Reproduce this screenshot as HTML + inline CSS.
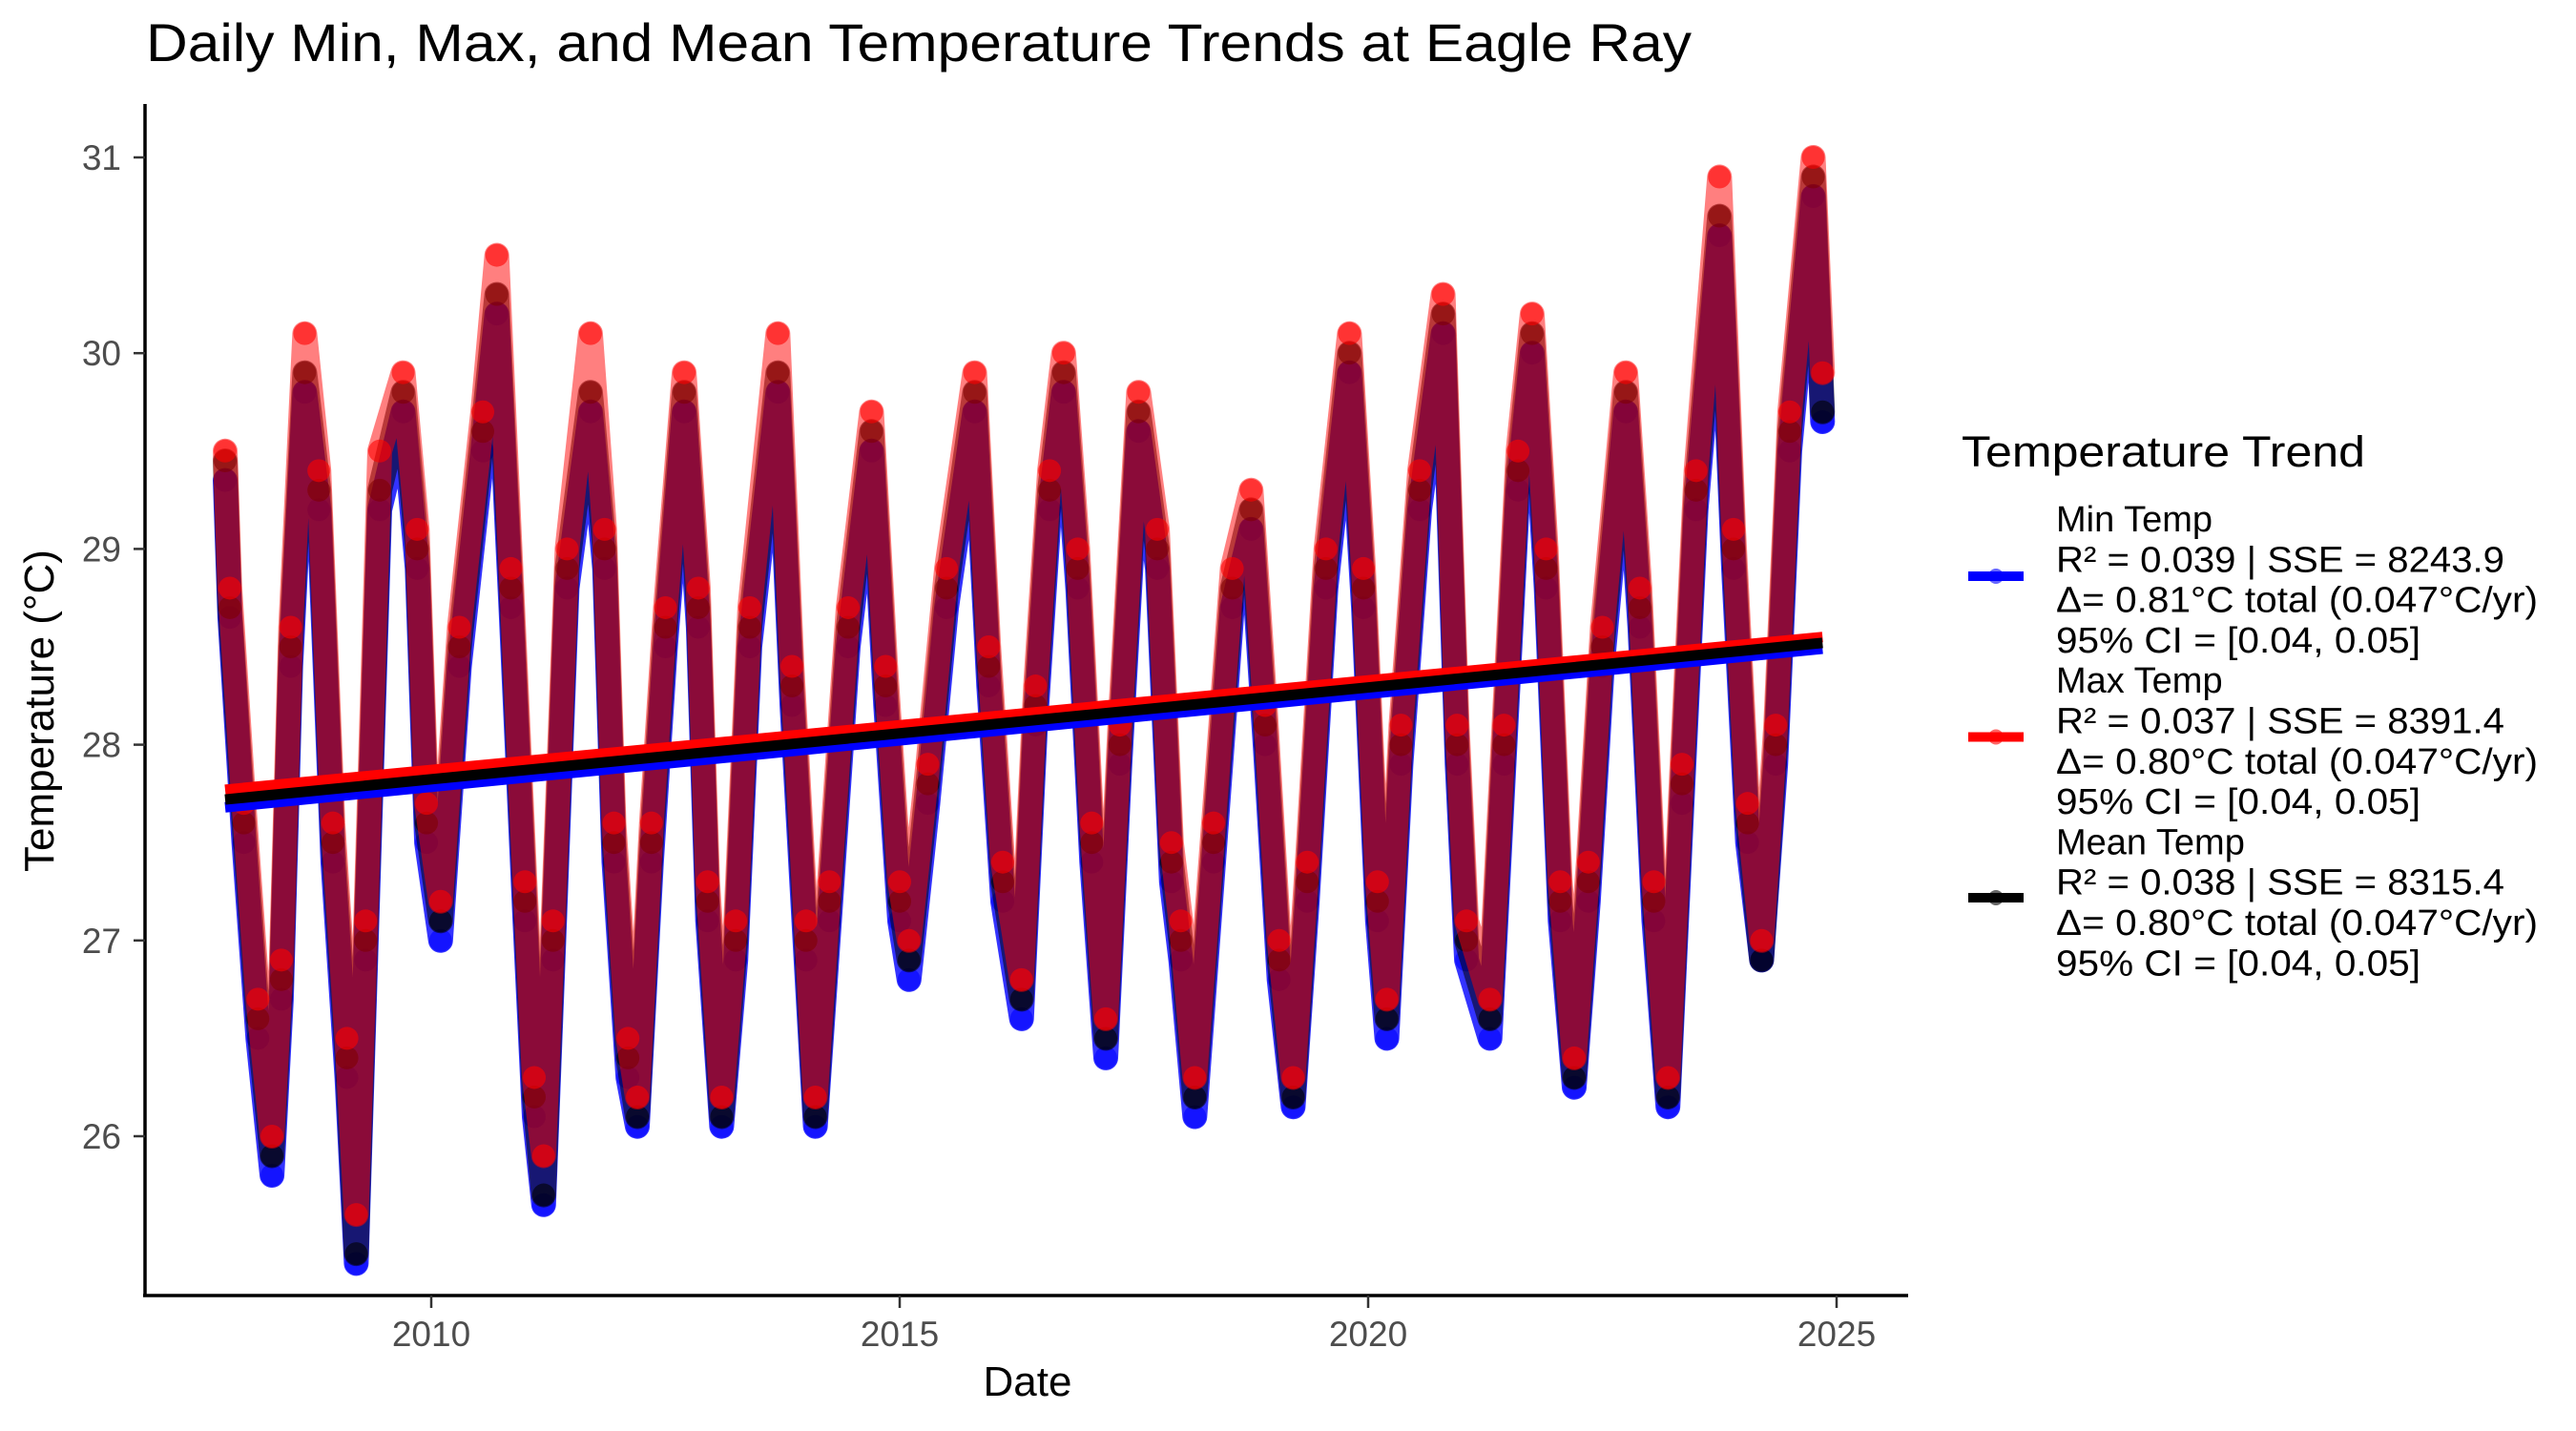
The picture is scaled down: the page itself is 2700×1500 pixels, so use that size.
<!DOCTYPE html>
<html><head><meta charset="utf-8"><style>
html,body{margin:0;padding:0;background:#fff;}
svg{display:block;font-family:"Liberation Sans",Arial,sans-serif;}
</style></head><body>
<svg id="chart" width="2700" height="1500" viewBox="0 0 2700 1500" xmlns="http://www.w3.org/2000/svg">
<rect width="2700" height="1500" fill="#fff"/>
<text x="153" y="64" font-size="56" fill="#000" textLength="1620" lengthAdjust="spacingAndGlyphs">Daily Min, Max, and Mean Temperature Trends at Eagle Ray</text>
<g id="plot"></g>
<g id="axes"></g>
<text x="1077" y="1463" font-size="44" text-anchor="middle" fill="#000">Date</text>
<text transform="translate(56,745) rotate(-90)" font-size="44" text-anchor="middle" fill="#000">Temperature (°C)</text>
<g id="legend">
<text x="2056" y="489" font-size="45" fill="#000" textLength="423" lengthAdjust="spacingAndGlyphs">Temperature Trend</text>
</g>
</svg>
<script>
const dates = [2007.80,2007.85,2008.00,2008.15,2008.30,2008.40,2008.50,2008.65,2008.80,2008.95,2009.10,2009.20,2009.30,2009.45,2009.70,2009.85,2009.95,2010.10,2010.30,2010.55,2010.70,2010.85,2011.00,2011.10,2011.20,2011.30,2011.45,2011.70,2011.85,2011.95,2012.10,2012.20,2012.35,2012.50,2012.70,2012.85,2012.95,2013.10,2013.25,2013.40,2013.70,2013.85,2014.00,2014.10,2014.25,2014.45,2014.70,2014.85,2015.00,2015.10,2015.30,2015.50,2015.80,2015.95,2016.10,2016.30,2016.45,2016.60,2016.75,2016.90,2017.05,2017.20,2017.35,2017.55,2017.75,2017.90,2018.00,2018.15,2018.35,2018.55,2018.75,2018.90,2019.05,2019.20,2019.35,2019.55,2019.80,2019.95,2020.10,2020.20,2020.35,2020.55,2020.80,2020.95,2021.05,2021.30,2021.45,2021.60,2021.75,2021.90,2022.05,2022.20,2022.35,2022.50,2022.75,2022.90,2023.05,2023.20,2023.35,2023.50,2023.75,2023.90,2024.05,2024.20,2024.35,2024.50,2024.75,2024.85];
const meanTemp = [29.45,28.7,27.6,26.6,25.9,26.8,28.5,29.9,29.3,27.5,26.4,25.4,27.0,29.3,29.8,29.0,27.6,27.1,28.5,29.6,30.3,28.8,27.2,26.2,25.7,27.0,28.9,29.8,29.0,27.5,26.4,26.1,27.5,28.6,29.8,28.7,27.2,26.1,27.0,28.6,29.9,28.3,27.0,26.1,27.2,28.6,29.6,28.3,27.2,26.9,27.8,28.8,29.8,28.4,27.3,26.7,28.2,29.3,29.9,28.9,27.5,26.5,28.0,29.7,29.0,27.4,27.0,26.2,27.5,28.8,29.2,28.1,26.9,26.2,27.3,28.9,30.0,28.8,27.2,26.6,28.0,29.3,30.2,28.0,27.0,26.6,28.0,29.4,30.1,28.9,27.2,26.3,27.3,28.5,29.8,28.7,27.2,26.2,27.8,29.3,30.7,29.0,27.6,26.9,28.0,29.6,30.9,29.7];
const minTemp = [29.35,28.65,27.5,26.5,25.8,26.7,28.4,29.8,29.2,27.4,26.3,25.35,26.9,29.2,29.7,28.9,27.5,27.0,28.4,29.5,30.2,28.7,27.1,26.1,25.65,26.9,28.8,29.7,28.9,27.4,26.3,26.05,27.4,28.5,29.7,28.6,27.1,26.05,26.9,28.5,29.8,28.2,26.9,26.05,27.1,28.5,29.5,28.2,27.1,26.8,27.7,28.7,29.7,28.3,27.2,26.6,28.1,29.2,29.8,28.8,27.4,26.4,27.9,29.6,28.9,27.3,26.9,26.1,27.4,28.7,29.1,28.0,26.8,26.15,27.2,28.8,29.9,28.7,27.1,26.5,27.9,29.2,30.1,27.9,26.9,26.5,27.9,29.3,30.0,28.8,27.1,26.25,27.2,28.4,29.7,28.6,27.1,26.15,27.7,29.2,30.6,28.9,27.5,26.9,27.9,29.5,30.8,29.65];
const maxTemp = [29.5,28.8,27.7,26.7,26.0,26.9,28.6,30.1,29.4,27.6,26.5,25.6,27.1,29.5,29.9,29.1,27.7,27.2,28.6,29.7,30.5,28.9,27.3,26.3,25.9,27.1,29.0,30.1,29.1,27.6,26.5,26.2,27.6,28.7,29.9,28.8,27.3,26.2,27.1,28.7,30.1,28.4,27.1,26.2,27.3,28.7,29.7,28.4,27.3,27.0,27.9,28.9,29.9,28.5,27.4,26.8,28.3,29.4,30.0,29.0,27.6,26.6,28.1,29.8,29.1,27.5,27.1,26.3,27.6,28.9,29.3,28.2,27.0,26.3,27.4,29.0,30.1,28.9,27.3,26.7,28.1,29.4,30.3,28.1,27.1,26.7,28.1,29.5,30.2,29.0,27.3,26.4,27.4,28.6,29.9,28.8,27.3,26.3,27.9,29.4,30.9,29.1,27.7,27.0,28.1,29.7,31.0,29.9];
const trendYears = [2007.80, 2024.85];
const trendMin = [27.68, 28.49];
const trendMax = [27.77, 28.55];
const trendMean = [27.72, 28.52];
const xTicks = [2010, 2015, 2020, 2025];
const yTicks = [26, 27, 28, 29, 30, 31];

const NS = "http://www.w3.org/2000/svg";
function xs(yr){ return 452 + (yr - 2010) * 98.2; }
function ys(t){ return 165 + (31 - t) * 205.2; }
function mk(tag, attrs, parent){
  const e = document.createElementNS(NS, tag);
  for (const k in attrs) e.setAttribute(k, attrs[k]);
  parent.appendChild(e);
  return e;
}
const plot = document.getElementById('plot');
const axes = document.getElementById('axes');
const legend = document.getElementById('legend');

function drawSeries(vals, color, op, name){
  const g = mk('g', {}, plot);
  
  
  let d = '';
  for (let i = 0; i < dates.length; i++) d += (i ? 'L' : 'M') + xs(dates[i]).toFixed(1) + ' ' + ys(vals[i]).toFixed(1);
  const p = mk('path', {d: d, fill: 'none', stroke: color, 'stroke-width': 26, 'stroke-linejoin': 'round', 'stroke-linecap': 'round', opacity: op}, g);
  
  
  for (let i = 0; i < dates.length; i++){
    const c = mk('circle', {cx: xs(dates[i]), cy: ys(vals[i]), r: 12, fill: color, 'fill-opacity': 0.6}, g);
    
    
  }
}
drawSeries(minTemp, '#0000ff', 0.8, 'min-temp');
drawSeries(meanTemp, '#000000', 0.55, 'mean-temp');
drawSeries(maxTemp, '#ff0000', 0.5, 'max-temp');

function drawTrend(vals, color, name){
  const l = mk('line', {x1: xs(trendYears[0]), y1: ys(vals[0]), x2: xs(trendYears[1]), y2: ys(vals[1]), stroke: color, 'stroke-width': 11}, plot);
  
  
}
drawTrend(trendMin, '#0000ff', 'min-trend-line');
drawTrend(trendMax, '#ff0000', 'max-trend-line');
drawTrend(trendMean, '#000000', 'mean-trend-line');

const ya = mk('line', {x1: 152, y1: 109, x2: 152, y2: 1359, stroke: '#000', 'stroke-width': 3.5}, axes);


const xa = mk('line', {x1: 150, y1: 1358, x2: 2000, y2: 1358, stroke: '#000', 'stroke-width': 3.5}, axes);


yTicks.forEach(v => {
  const t = mk('line', {x1: 140, y1: ys(v), x2: 152, y2: ys(v), stroke: '#333', 'stroke-width': 2.5}, axes);
  
  
  const lb = mk('text', {x: 127, y: ys(v) + 13, 'font-size': 37, 'text-anchor': 'end', fill: '#4d4d4d'}, axes);
  lb.textContent = v;
  
  
});
xTicks.forEach(v => {
  const t = mk('line', {x1: xs(v), y1: 1358, x2: xs(v), y2: 1371, stroke: '#333', 'stroke-width': 2.5}, axes);
  
  
  const lb = mk('text', {x: xs(v), y: 1411, 'font-size': 37, 'text-anchor': 'middle', fill: '#4d4d4d'}, axes);
  lb.textContent = v;
  
  
});

const legNames = ['min-temp', 'max-temp', 'mean-temp'];
const legColors = ['#0000ff', '#ff0000', '#000000'];
const legText = [
  ['Min Temp', 'R² = 0.039 | SSE = 8243.9', 'Δ= 0.81°C total (0.047°C/yr)', '95% CI = [0.04, 0.05]'],
  ['Max Temp', 'R² = 0.037 | SSE = 8391.4', 'Δ= 0.80°C total (0.047°C/yr)', '95% CI = [0.04, 0.05]'],
  ['Mean Temp', 'R² = 0.038 | SSE = 8315.4', 'Δ= 0.80°C total (0.047°C/yr)', '95% CI = [0.04, 0.05]']
];
const widths = [null, 470, 505, 382];
for (let k = 0; k < 3; k++){
  const g = mk('g', {}, legend);
  
  
  const ky = 604 + k * 168.5;
  mk('line', {x1: 2063, y1: ky, x2: 2121, y2: ky, stroke: legColors[k], 'stroke-width': 10}, g);
  mk('circle', {cx: 2092, cy: ky, r: 8, fill: legColors[k], 'fill-opacity': 0.6}, g);
  for (let j = 0; j < 4; j++){
    const attrs = {x: 2155, y: 557 + (k * 4 + j) * 42.3, 'font-size': 38, fill: '#000'};
    if (widths[j]) { attrs.textLength = widths[j]; attrs.lengthAdjust = 'spacingAndGlyphs'; }
    const t = mk('text', attrs, g);
    t.textContent = legText[k][j];
    
    
  }
}
</script>
</body></html>
